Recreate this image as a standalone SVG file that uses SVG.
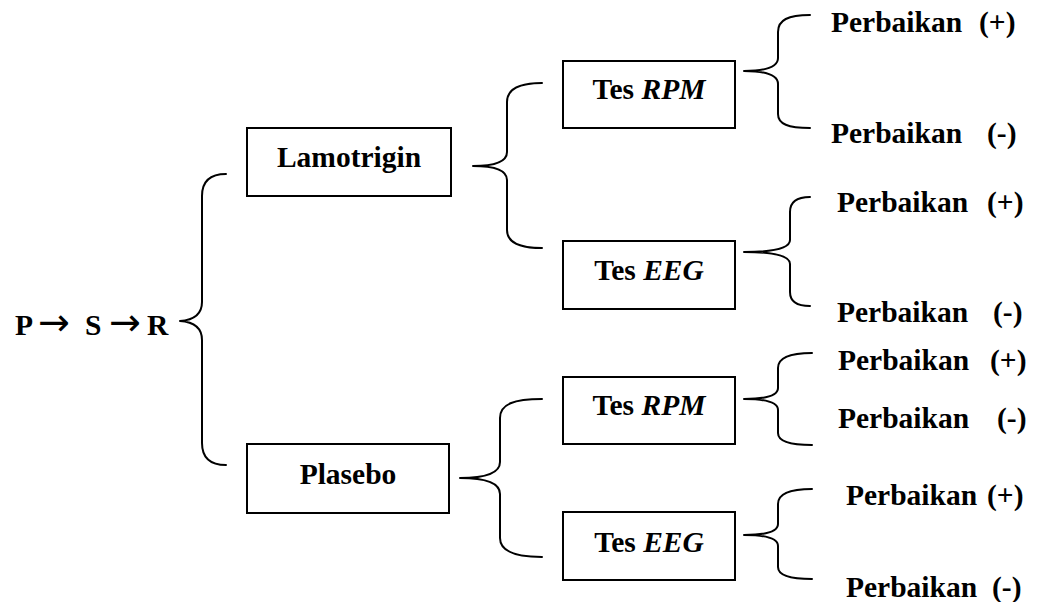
<svg xmlns="http://www.w3.org/2000/svg" width="1038" height="602" viewBox="0 0 1038 602">
<style>
  text { font-family: "Liberation Serif", "Times New Roman", serif; font-weight: bold; font-size: 29.5px; fill: #000; }
  .it { font-style: italic; }
  .arr { font-family: "DejaVu Sans", sans-serif; font-weight: normal; font-size: 38px; }
  .box { fill: #fff; stroke: #000; stroke-width: 2; }
  .brace { fill: none; stroke: #000; stroke-width: 2; stroke-linecap: round; stroke-linejoin: round; }
</style>
<rect width="1038" height="602" fill="#fff"/>
<g id="connectors">
  <path class="brace" d="M226,174 C210,174 202,182 202,196 L202,302 C202,314 194,320 180,321 C194,322 202,328 202,340 L202,443 C202,457 210,465 226,465"/>
  <path class="brace" d="M542,83 C520,83 507,88 507,102 L507,152 C507,161 496,166 473,166 C496,166 507,171 507,180 L507,230 C507,243 520,248 542,248"/>
  <path class="brace" d="M542,399 C514,399 500,404 500,418 L500,462 C500,472 488,478 460,478 C488,478 500,484 500,494 L500,538 C500,551 514,557 542,557"/>
  <path class="brace" d="M810,15 C788,15 778,20 778,32 L778,58 C778,66 768,71 744,71 C768,71 778,76 778,84 L778,114 C778,124 788,128 810,128"/>
  <path class="brace" d="M810,197 C797,197 790,202 790,212 L790,240 C790,248 775,252 744,252 C775,252 790,256 790,264 L790,292 C790,302 797,306 810,306"/>
  <path class="brace" d="M812,353 C789,353 778,358 778,368 L778,388 C778,395 768,399 744,399 C768,399 778,403 778,410 L778,433 C778,441 789,445 812,445"/>
  <path class="brace" d="M812,489 C789,489 778,494 778,504 L778,524 C778,531 768,535 744,535 C768,535 778,539 778,546 L778,567 C778,575 789,579 812,579"/>
</g>
<g id="root">
  <text y="335"><tspan x="15">P</tspan><tspan class="arr" x="38">→</tspan><tspan x="85">S</tspan><tspan class="arr" x="109">→</tspan><tspan x="147">R</tspan></text>
</g>
<g id="lamotrigin">
  <rect class="box" x="247" y="128" width="204" height="68"/>
  <text x="349" y="167" text-anchor="middle">Lamotrigin</text>
</g>
<g id="plasebo">
  <rect class="box" x="247" y="444" width="202" height="69"/>
  <text x="348" y="484" text-anchor="middle">Plasebo</text>
</g>
<g id="tes-rpm-1">
  <rect class="box" x="563" y="61" width="172" height="67"/>
  <text x="649" y="99" text-anchor="middle">Tes <tspan class="it">RPM</tspan></text>
</g>
<g id="tes-eeg-1">
  <rect class="box" x="563" y="241" width="172" height="68"/>
  <text x="649" y="280" text-anchor="middle">Tes <tspan class="it">EEG</tspan></text>
</g>
<g id="tes-rpm-2">
  <rect class="box" x="563" y="377" width="172" height="67"/>
  <text x="649" y="415" text-anchor="middle">Tes <tspan class="it">RPM</tspan></text>
</g>
<g id="tes-eeg-2">
  <rect class="box" x="563" y="512" width="172" height="68"/>
  <text x="649" y="552" text-anchor="middle">Tes <tspan class="it">EEG</tspan></text>
</g>
<g id="out-1"><text y="32"><tspan x="831">Perbaikan</tspan><tspan x="979">(+)</tspan></text></g>
<g id="out-2"><text y="143"><tspan x="831">Perbaikan</tspan><tspan x="987">(-)</tspan></text></g>
<g id="out-3"><text y="212"><tspan x="837">Perbaikan</tspan><tspan x="987">(+)</tspan></text></g>
<g id="out-4"><text y="322"><tspan x="837">Perbaikan</tspan><tspan x="993">(-)</tspan></text></g>
<g id="out-5"><text y="370"><tspan x="838">Perbaikan</tspan><tspan x="990">(+)</tspan></text></g>
<g id="out-6"><text y="428"><tspan x="838">Perbaikan</tspan><tspan x="997">(-)</tspan></text></g>
<g id="out-7"><text y="505"><tspan x="846">Perbaikan</tspan><tspan x="987">(+)</tspan></text></g>
<g id="out-8"><text y="597"><tspan x="846">Perbaikan</tspan><tspan x="992">(-)</tspan></text></g>
</svg>
